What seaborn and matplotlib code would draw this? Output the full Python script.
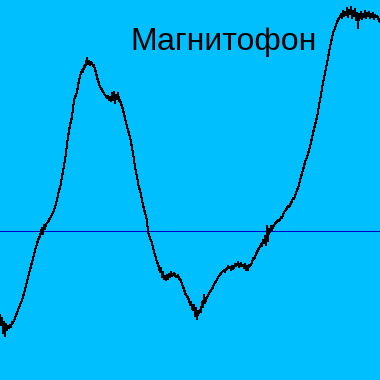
import matplotlib
matplotlib.use("Agg")
import matplotlib.pyplot as plt
import seaborn as sns
import pandas as pd

# waveform: sample position and screen level (0 = top)
sample = [0, 1, 2, 3, 4, 5, 6, 7, 8, 9, 10, 11, 12, 13, 15, 18, 20, 22, 25, 28,
          30, 32, 34, 35, 37, 38, 40, 41, 42, 43, 44, 45, 46, 48, 50, 52, 54, 55, 57, 59,
          60, 62, 65, 68, 70, 72, 74, 77, 79, 81, 82, 83, 84, 85, 86, 87, 88, 89, 90, 91,
          92, 93, 94, 95, 96, 97, 98, 99, 100, 101, 103, 105, 107, 108, 109, 110, 111, 112, 113, 114,
          115, 116, 117, 118, 119, 120, 121, 122, 123, 125, 127, 130, 133, 135, 137, 139, 140, 142, 143, 145,
          147, 148, 150, 152, 154, 155, 157, 158, 160, 161, 162, 163, 164, 165, 166, 167, 168, 169, 170, 171,
          172, 173, 174, 175, 176, 177, 178, 179, 180, 181, 182, 183, 184, 185, 186, 187, 188, 189, 190, 191,
          192, 193, 194, 195, 196, 197, 198, 199, 200, 201, 202, 203, 204, 205, 206, 207, 208, 209, 210, 211,
          212, 213, 214, 215, 216, 217, 218, 219, 220, 221, 222, 223, 224, 225, 226, 227, 228, 229, 230, 231,
          232, 233, 234, 235, 236, 237, 238, 239, 240, 241, 242, 243, 244, 245, 246, 247, 248, 249, 250, 251,
          252, 253, 254, 255, 256, 257, 258, 259, 260, 261, 262, 263, 264, 265, 266, 267, 268, 269, 270, 271,
          272, 273, 274, 275, 276, 277, 278, 279, 280, 281, 282, 283, 284, 285, 286, 287, 288, 289, 290, 291,
          292, 293, 294, 295, 296, 297, 298, 299, 300, 303, 305, 307, 310, 313, 315, 317, 320, 323, 325, 327,
          330, 333, 335, 337, 338, 339, 340, 341, 342, 343, 344, 345, 346, 347, 348, 349, 350, 351, 352, 353,
          354, 355, 356, 357, 358, 359, 360, 361, 362, 363, 364, 365, 366, 367, 368, 369, 370, 371, 372, 373,
          374, 375, 376, 377, 378, 379, 380]
level = [315, 325, 318, 333, 322, 336, 324, 330, 326, 328, 325, 327, 322, 323, 318, 310, 305, 300, 290, 277,
         270, 262, 255, 250, 244, 240, 236, 232, 228, 234, 225, 229, 224, 222, 218, 215, 210, 207, 200, 190,
         188, 177, 160, 137, 125, 117, 100, 92, 80, 73, 70, 72, 66, 67, 63, 58, 64, 61, 65, 62,
         63, 66, 65, 70, 72, 78, 80, 84, 87, 88, 92, 95, 98, 96, 100, 97, 101, 93, 100, 92,
         103, 95, 99, 93, 101, 100, 104, 106, 110, 118, 127, 137, 153, 167, 177, 188, 190, 200, 205, 213,
         220, 232, 238, 243, 252, 255, 262, 264, 272, 268, 277, 272, 279, 276, 280, 275, 279, 274, 277, 272,
         276, 275, 273, 275, 277, 276, 275, 279, 279, 281, 284, 287, 289, 293, 295, 296, 298, 300, 305, 302,
         308, 310, 305, 316, 308, 319, 311, 313, 310, 312, 302, 307, 295, 303, 299, 297, 296, 293, 292, 290,
         289, 287, 284, 283, 281, 280, 277, 276, 275, 273, 272, 271, 270, 272, 269, 269, 266, 268, 267, 270,
         266, 269, 268, 264, 266, 265, 262, 267, 265, 263, 266, 265, 268, 264, 270, 266, 270, 265, 266, 264,
         263, 258, 259, 257, 254, 252, 250, 248, 247, 244, 246, 240, 243, 236, 245, 226, 241, 229, 232, 226,
         230, 227, 225, 224, 222, 222, 220, 221, 220, 217, 218, 215, 212, 211, 210, 208, 206, 207, 205, 203,
         201, 198, 199, 196, 193, 190, 188, 185, 180, 170, 162, 157, 147, 133, 125, 117, 100, 83, 73, 63,
         47, 33, 28, 22, 20, 18, 17, 14, 18, 11, 16, 12, 15, 8, 17, 10, 14, 7, 18, 11,
         16, 9, 20, 13, 28, 14, 18, 12, 19, 14, 17, 11, 18, 13, 16, 12, 18, 14, 17, 13,
         19, 15, 17, 16, 18, 20, 22]
baseline = 231
title = "Магнитофон"

df = pd.DataFrame({"sample": sample, "level": level})

fig = plt.figure(figsize=(3.8, 3.8), dpi=100)
ax = fig.add_axes([0, 0, 1, 1])
ax.set_facecolor("#00BFFF")
fig.patch.set_facecolor("#00BFFF")

ax.axhline(baseline, color="#0000C8", linewidth=0.72, antialiased=False)
sns.lineplot(data=df, x="sample", y="level", color="black", linewidth=0.72,
             estimator=None, sort=False, antialiased=False, ax=ax)

ax.set_xlim(0, 380)
ax.set_ylim(380, 0)
ax.axis("off")

fig.text(224 / 380, 1 - 50 / 380, title, ha="center", va="baseline",
         fontsize=23, family=["Liberation Sans", "DejaVu Sans"], color="black")

fig.savefig("out.png", dpi=100, facecolor=fig.get_facecolor())
